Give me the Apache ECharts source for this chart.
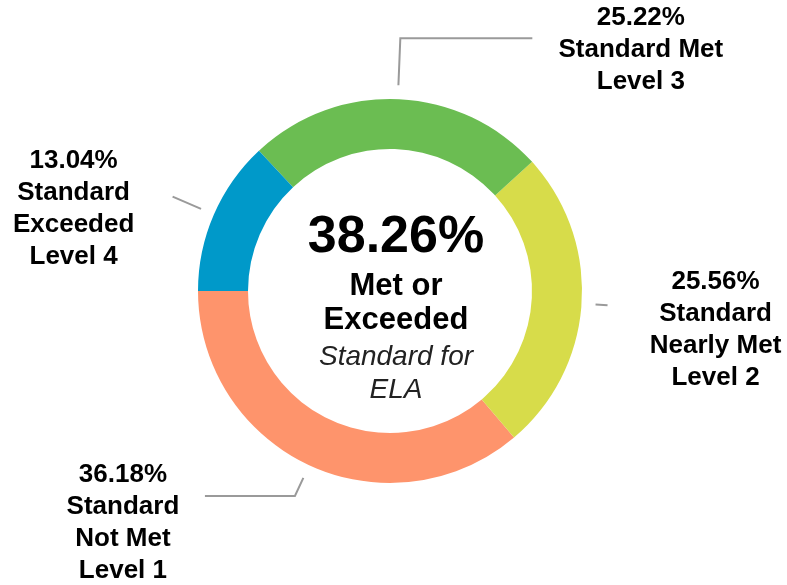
<!DOCTYPE html>
<html>
<head>
<meta charset="utf-8">
<script src="https://cdn.jsdelivr.net/npm/echarts@6/dist/echarts.min.js"></script>
<style>
    html, body { margin: 0; padding: 0; background: #fff; }
    #main { width: 787px; height: 585px; }
</style>
</head>
<body>
<div id="main"></div>
<script>
// achievement levels, in drawing order (counter-clockwise from 9 o'clock)
var levels = ['Standard\nNot Met\nLevel 1', 'Standard\nNearly Met\nLevel 2', 'Standard Met\nLevel 3', 'Standard\nExceeded\nLevel 4'];
var values = [36.18, 25.56, 25.22, 13.04];
var colors = ['#FE946C', '#D7DC4A', '#6BBD52', '#0099C9'];
var subject = 'ELA';
var metLevels = [2, 3]; // Level 3 + Level 4 -> "Met or Exceeded"

var font = '"Liberation Sans", Arial, sans-serif';

// leader line / label placement per level
var labelPlace = [
    { length: 20, length2: 90, dist: 25, width: 114, shiftY: 27 },
    { length: 12, length2: 0, dist: 41, width: 134, shiftY: 25 },
    { length: 47, length2: 132, dist: 25, width: 167, shiftY: 12 },
    { length: 31, length2: 0, dist: 38, width: 122, shiftY: 12 }
];

var metTotal = 0;
metLevels.forEach(function (i) { metTotal += values[i]; });

var ringData = [];
var labelData = [];
for (var i = 0; i < levels.length; i++) {
    var p = labelPlace[i];
    ringData.push({ name: levels[i], value: values[i], itemStyle: { color: colors[i] } });
    labelData.push({
        name: levels[i],
        value: values[i],
        label: {
            distanceToLabelLine: p.dist,
            padding: [p.shiftY * 2, 0, 0, 0],
            rich: {
                t: {
                    width: p.width,
                    align: 'center',
                    fontSize: 26,
                    fontWeight: 'bold',
                    fontFamily: font,
                    lineHeight: 32,
                    color: '#000'
                }
            }
        },
        labelLine: { length: p.length, length2: p.length2 }
    });
}

var myChart = echarts.init(document.getElementById('main'));

option = {
    animation: false,
    backgroundColor: '#fff',
    series: [
        {
            type: 'pie',
            center: [390, 291],
            radius: [142, 192],
            startAngle: 180,
            clockwise: false,
            silent: true,
            label: { show: false },
            labelLine: { show: false },
            data: ringData
        },
        {
            // invisible ring that only carries the labels and leader lines
            type: 'pie',
            center: [390, 291],
            radius: [200, 206],
            startAngle: 180,
            clockwise: false,
            silent: true,
            avoidLabelOverlap: false,
            itemStyle: { color: 'rgba(0,0,0,0)' },
            label: {
                show: true,
                position: 'outside',
                formatter: function (params) {
                    var lines = [params.value.toFixed(2) + '%'].concat(params.name.split('\n'));
                    return lines.map(function (s) { return '{t|' + s + '}'; }).join('\n');
                }
            },
            labelLine: {
                show: true,
                smooth: false,
                lineStyle: { color: '#9a9a9a', width: 2 }
            },
            data: labelData
        }
    ],
    graphic: [
        { type: 'text', x: 396, y: 238, style: { text: metTotal.toFixed(2) + '%', fontSize: 52, fontWeight: 'bold', fontFamily: font, fill: '#000', align: 'center', verticalAlign: 'middle' } },
        { type: 'text', x: 396, y: 286, style: { text: 'Met or', fontSize: 31, fontWeight: 'bold', fontFamily: font, fill: '#000', align: 'center', verticalAlign: 'middle' } },
        { type: 'text', x: 396, y: 320, style: { text: 'Exceeded', fontSize: 31, fontWeight: 'bold', fontFamily: font, fill: '#000', align: 'center', verticalAlign: 'middle' } },
        { type: 'text', x: 396, y: 357, style: { text: 'Standard for', fontSize: 28, fontStyle: 'italic', fontFamily: font, fill: '#222', align: 'center', verticalAlign: 'middle' } },
        { type: 'text', x: 396, y: 390, style: { text: subject, fontSize: 28, fontStyle: 'italic', fontFamily: font, fill: '#222', align: 'center', verticalAlign: 'middle' } }
    ]
};

myChart.setOption(option);
</script>
</body>
</html>
